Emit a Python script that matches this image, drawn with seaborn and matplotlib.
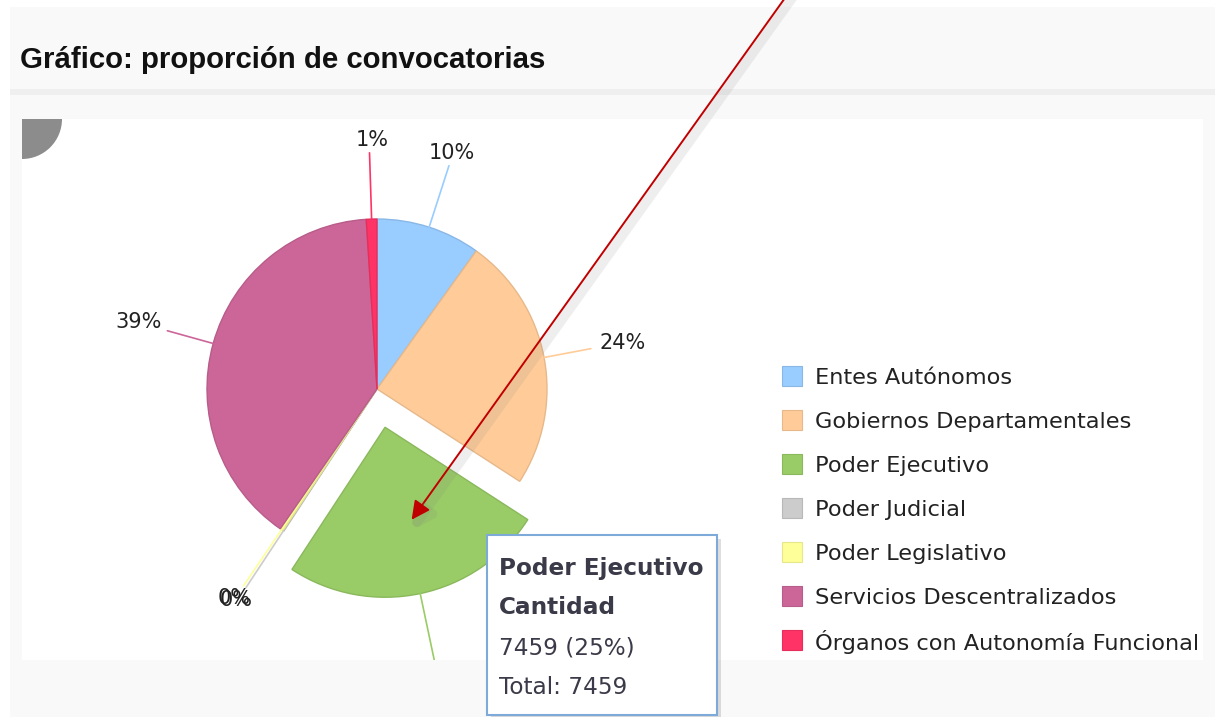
import seaborn as sns
import matplotlib.pyplot as plt
import matplotlib.patheffects as pe
from matplotlib.patches import Rectangle, Wedge
from matplotlib.colors import to_rgb
import numpy as np

# datos del grafico
categorias = ["Entes Autónomos", "Gobiernos Departamentales", "Poder Ejecutivo",
              "Poder Judicial", "Poder Legislativo", "Servicios Descentralizados",
              "Órganos con Autonomía Funcional"]
cantidades = [2950, 7200, 7459, 30, 90, 11700, 300]
colores = ["#99CCFF", "#FFCC99", "#99CC66", "#CCCCCC", "#FFFF99", "#CC6699", "#FF3366"]
destacada = "Poder Ejecutivo"
titulo = "Gráfico: proporción de convocatorias"
tooltip_lineas = ["Poder Ejecutivo", "Cantidad", "7459 (25%)", "Total: 7459"]

sns.set_theme(style="white")
plt.rcParams['font.family'] = ['DejaVu Sans']

W, H = 1215, 717
fig = plt.figure(figsize=(W / 100, H / 100), dpi=100)
fig.patch.set_facecolor('white')

# fondo del panel (coordenadas en pixeles)
bg = fig.add_axes([0, 0, 1, 1], zorder=0)
bg.set_xlim(0, W)
bg.set_ylim(H, 0)
bg.axis('off')
bg.add_patch(Rectangle((10, 7), W - 10, H - 7, facecolor='#F9F9F9', edgecolor='none'))
bg.add_patch(Rectangle((10, 89), W - 10, 6, facecolor='#EFEFEF', edgecolor='none'))
area = Rectangle((22, 119), 1181, 541, facecolor='white', edgecolor='none')
bg.add_patch(area)
bg.add_patch(Wedge((22, 119), 40, 0, 90, facecolor='#8C8C8C', edgecolor='none'))
fig.text(20 / W, 1 - 60 / H, titulo, fontsize=21.2, fontweight='bold', va='center',
         family=['Liberation Sans', 'DejaVu Sans'], color='#111111')

# torta
cx, cy, R = 377, 389, 170
ax = fig.add_axes([(cx - 1.5 * R) / W, 1 - (cy + 1.5 * R) / H, 3 * R / W, 3 * R / H], zorder=1)

explode = [0.23 if c == destacada else 0 for c in categorias]
wedges, _ = ax.pie(cantidades, colors=colores, startangle=90, counterclock=False,
                   explode=explode, radius=1, wedgeprops=dict(linewidth=1))
for w, c in zip(wedges, colores):
    w.set_edgecolor(tuple(np.array(to_rgb(c)) * 0.9))
# pie() fija sus propios limites, se reemplazan despues
ax.set_xlim(-1.5, 1.5)
ax.set_ylim(-1.5, 1.5)
ax.axis('off')
ax.patch.set_alpha(0)

# etiquetas de porcentaje con lineas
total = sum(cantidades)
dist = [1.38, 1.28, 1.4, 1.4, 1.4, 1.28, 1.39]
for w, c, v, d in zip(wedges, colores, cantidades, dist):
    ang = np.deg2rad((w.theta1 + w.theta2) / 2)
    x0, y0 = w.center
    p1 = (x0 + np.cos(ang), y0 + np.sin(ang))
    p2 = (x0 + d * np.cos(ang), y0 + d * np.sin(ang))
    line, = ax.plot([p1[0], p2[0]], [p1[1], p2[1]], color=c, lw=1.2)
    line.set_clip_path(area)
    if np.cos(ang) > 0.65:
        ha, off = 'left', (6, 4)
    elif np.cos(ang) < -0.65:
        ha, off = 'right', (-4, 6)
    elif np.sin(ang) > 0:
        ha, off = 'center', (2, 9)
    else:
        ha, off = 'center', (-7, -9)
    t = ax.annotate(f"{round(100 * v / total)}%", xy=p2, xytext=off, textcoords='offset points',
                    ha=ha, va='center', fontsize=15, color='#222222', annotation_clip=False)
    t.set_clip_on(True)
    t.set_clip_path(area)

# leyenda (cuadros con el color de cada porcion)
for i, (w, nombre) in enumerate(zip(wedges, categorias)):
    y = 376 + 44 * i
    bg.add_patch(Rectangle((782, y - 10), 20, 20, facecolor=w.get_facecolor(),
                           edgecolor=w.get_edgecolor(), lw=0.8, zorder=3))
    bg.text(815, y, nombre, fontsize=16.2, va='center_baseline', color='#222222', zorder=3)

# capa superior: flecha y tooltip
top = fig.add_axes([0, 0, 1, 1], zorder=2)
top.set_xlim(0, W)
top.set_ylim(H, 0)
top.axis('off')
top.patch.set_alpha(0)

arr = top.annotate('', xy=(410, 522), xytext=(805, -30),
                   arrowprops=dict(arrowstyle='-|>', color='#C00000', lw=1.4, mutation_scale=28))
arr.arrow_patch.set_path_effects([pe.SimpleLineShadow(offset=(3, -3), shadow_color='gray',
                                                      alpha=0.13, linewidth=7), pe.Normal()])

caja = Rectangle((487, 535), 230, 180, facecolor='white', edgecolor='#7EAAD9', lw=1.5)
caja.set_path_effects([pe.SimplePatchShadow(offset=(3, -3), alpha=0.18), pe.Normal()])
top.add_patch(caja)
ys = [568, 607, 648, 688]
for i, (linea, y) in enumerate(zip(tooltip_lineas, ys)):
    top.text(499, y, linea, fontsize=16.7, va='center', color='#3a3a48',
             fontweight='bold' if i < 2 else 'normal')

fig.savefig('out.png', dpi=100, facecolor=fig.get_facecolor())
